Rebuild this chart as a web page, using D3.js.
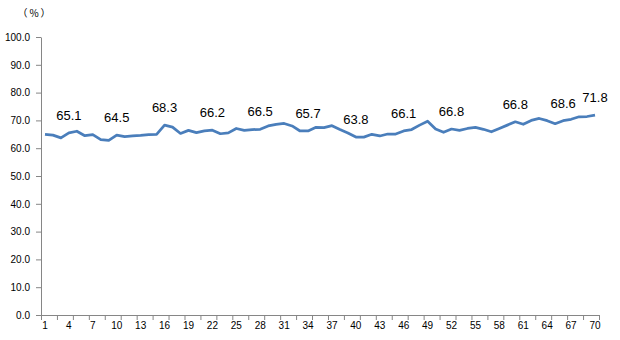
<!DOCTYPE html>
<html>
<head>
<meta charset="utf-8">
<script src="https://cdn.jsdelivr.net/npm/d3@7"></script>
<style>
  html, body { margin: 0; padding: 0; background: #fff; }
  svg { display: block; }
</style>
</head>
<body>
<svg id="chart" width="620" height="340"></svg>
<script>
// ---- data ----
const categories = d3.range(1, 71);
const values = [
  65.0, 64.7, 63.7, 65.5, 66.1, 64.5, 64.9, 63.1, 62.8, 64.7,
  64.2, 64.4, 64.6, 64.9, 65.0, 68.3, 67.6, 65.3, 66.4, 65.6,
  66.2, 66.5, 65.2, 65.5, 67.1, 66.4, 66.7, 66.8, 68.0, 68.6,
  68.9, 68.0, 66.2, 66.2, 67.5, 67.4, 68.1, 66.7, 65.5, 64.0,
  64.0, 65.0, 64.4, 65.1, 65.1, 66.2, 66.7, 68.3, 69.7, 66.9,
  65.7, 66.9, 66.4, 67.1, 67.5, 66.8, 65.9, 67.1, 68.3, 69.5,
  68.6, 70.0, 70.7, 69.9, 68.8, 69.9, 70.4, 71.3, 71.4, 71.9
];
const labelCategories = [4, 10, 16, 22, 28, 34, 40, 46, 52, 60, 66, 70];
const labelTexts = ["65.1", "64.5", "68.3", "66.2", "66.5", "65.7", "63.8", "66.1", "66.8", "66.8", "68.6", "71.8"];
const yTicks = d3.range(0, 101, 10);
const xLabelTicks = d3.range(1, 71, 3);
const unitLabel = "（%）";

// ---- layout ----
const svg = d3.select("#chart");
const mLeft = 41, mRight = 599, mTop = 37, mBottom = 315;
const axisColor = "#868686";
const lineColor = "#4A7EBB";

const x = d3.scaleBand().domain(categories).range([mLeft, mRight]).padding(0);
const xb = d3.scaleLinear().domain([0, categories.length]).range([mLeft, mRight]);
const y = d3.scaleLinear().domain([0, 100]).range([mBottom, mTop]);
const cx = c => x(c) + x.bandwidth() / 2;

// y axis
const yAxis = svg.append("g")
  .attr("transform", `translate(${mLeft},0)`)
  .call(d3.axisLeft(y).tickValues(yTicks).tickFormat(d3.format(".1f")).tickSize(5).tickSizeOuter(0).tickPadding(6));
yAxis.select(".domain").attr("stroke", axisColor);
yAxis.selectAll(".tick line").attr("stroke", axisColor);
yAxis.selectAll("text").attr("fill", "#000").style("font-family", "'Liberation Sans', Arial, sans-serif").style("font-size", "10px");

// x axis (tick marks at category boundaries, every 2)
const xAxis = svg.append("g")
  .attr("transform", `translate(0,${mBottom})`)
  .call(d3.axisBottom(xb).tickValues(d3.range(0, categories.length + 1, 2)).tickFormat("").tickSize(5).tickSizeOuter(0));
xAxis.select(".domain").attr("stroke", axisColor);
xAxis.selectAll(".tick line").attr("stroke", axisColor);

// x labels at category centers
const xLab = svg.append("g")
  .attr("transform", `translate(0,${mBottom})`)
  .call(d3.axisBottom(x).tickValues(xLabelTicks).tickSize(0).tickPadding(7));
xLab.select(".domain").remove();
xLab.selectAll("text").attr("fill", "#000").style("font-family", "'Liberation Sans', Arial, sans-serif").style("font-size", "10px");

// unit label
svg.append("text")
  .attr("x", 35).attr("y", 17)
  .attr("text-anchor", "middle")
  .style("font-family", "'Noto Sans CJK JP', sans-serif")
  .style("font-size", "10px")
  .style("letter-spacing", "2px")
  .text(unitLabel);

// line
const line = d3.line().x((d, i) => cx(categories[i])).y(d => y(d));
svg.append("path")
  .datum(values)
  .attr("d", line)
  .attr("fill", "none")
  .attr("stroke", lineColor)
  .attr("stroke-width", 2.75)
  .attr("stroke-linejoin", "round");

// data labels
svg.append("g").selectAll("text")
  .data(labelCategories)
  .join("text")
  .attr("x", c => cx(c))
  .attr("y", c => y(values[categories.indexOf(c)]) - 13)
  .attr("text-anchor", "middle")
  .style("font-family", "'Liberation Sans', Arial, sans-serif")
  .style("font-size", "13px")
  .attr("fill", "#000")
  .text((c, i) => labelTexts[i]);
</script>
</body>
</html>
